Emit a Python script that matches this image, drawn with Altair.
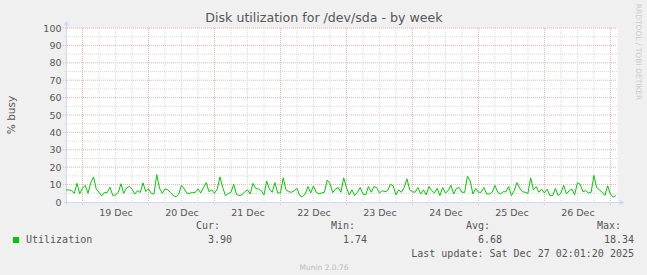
import altair as alt
import pandas as pd

# ---------------- data ----------------
chart_title = "Disk utilization for /dev/sda - by week"
y_title = "% busy"
start_time = "2025-12-18T18:00:00Z"   # left edge of the plot
span_hours = 200.4                     # visible time span
# hourly utilisation (%)
utilization = [
    6.9, 7.0, 6.5, 5.0, 10.7, 4.8, 8.0, 9.6, 5.0, 11.0, 14.4, 7.5, 5.5, 3.5, 5.5, 5.5,
    8.5, 3.8, 4.0, 5.5, 10.5, 5.0, 8.0, 9.0, 7.5, 4.5, 6.5, 5.5, 11.0, 6.0, 7.5, 5.0,
    4.5, 15.7, 8.0, 5.0, 7.5, 7.0, 5.5, 3.8, 3.0, 4.5, 9.6, 7.5, 5.0, 5.0, 5.5, 5.5,
    7.5, 5.2, 8.3, 11.1, 5.9, 7.0, 5.0, 7.4, 14.4, 8.3, 3.7, 4.8, 5.6, 10.2, 4.4, 3.7,
    4.1, 5.9, 7.0, 4.6, 10.7, 7.8, 7.4, 6.5, 4.1, 12.0, 7.4, 5.6, 11.1, 5.2, 5.2, 13.9,
    7.0, 5.9, 5.6, 6.5, 7.8, 3.7, 3.0, 4.6, 8.9, 5.2, 9.3, 5.6, 4.6, 5.2, 5.6, 12.6,
    10.7, 5.4, 7.4, 8.3, 5.6, 13.9, 8.3, 4.1, 7.0, 3.7, 5.6, 8.3, 4.6, 4.1, 8.9, 5.6,
    8.9, 8.3, 5.2, 6.5, 5.9, 6.5, 10.2, 9.3, 4.1, 7.0, 5.6, 8.3, 13.3, 7.0, 5.9, 5.6,
    8.3, 4.6, 7.0, 4.1, 8.9, 6.5, 5.2, 7.8, 3.7, 8.3, 5.2, 6.5, 9.6, 4.6, 7.8, 8.3,
    5.6, 5.6, 14.8, 12.0, 4.6, 7.8, 5.6, 5.6, 8.3, 4.6, 4.6, 5.6, 9.5, 5.6, 4.6, 5.9,
    5.9, 8.9, 3.7, 6.5, 11.1, 8.0, 5.9, 5.6, 5.0, 13.9, 7.0, 8.9, 5.6, 7.4, 5.2, 7.4,
    3.7, 3.7, 7.8, 3.7, 5.2, 9.6, 4.6, 6.5, 7.4, 4.1, 11.1, 10.2, 5.9, 6.5, 5.2, 5.6,
    15.2, 8.3, 7.0, 5.6, 3.7, 9.3, 4.6, 2.8, 3.7,
]
label_days = [19, 20, 21, 22, 23, 24, 25, 26]
y_tick_values = [0, 10, 20, 30, 40, 50, 60, 70, 80, 90, 100]
y_minor_values = [5, 15, 25, 35, 45, 55, 65, 75, 85, 95]
series_name = "Utilization"
legend_headers = ["Cur:", "Min:", "Avg:", "Max:"]
legend_values = ["3.90", "1.74", "6.68", "18.34"]
last_update = "Last update: Sat Dec 27 02:01:20 2025"
footer = "Munin 2.0.76"
watermark = "RRDTOOL / TOBI OETIKER"

# ---------------- frames ----------------
t0 = pd.Timestamp(start_time)
df = pd.DataFrame({
    "t": [(t0 + pd.Timedelta(hours=i)).strftime("%Y-%m-%dT%H:%M:%SZ") for i in range(len(utilization))],
    "v": utilization,
})
t_end = t0 + pd.Timedelta(hours=span_hours)
ms0 = int(t0.value // 10**6)
ms1 = int(t_end.value // 10**6)

grid_all = pd.date_range(pd.Timestamp("2025-12-19T00:00:00Z"), pd.Timestamp("2025-12-27T00:00:00Z"), freq="6h")
minor_x = pd.DataFrame({"t": [g.strftime("%Y-%m-%dT%H:%M:%SZ") for g in grid_all if g.hour != 0]})
major_x = pd.DataFrame({"t": [g.strftime("%Y-%m-%dT%H:%M:%SZ") for g in grid_all if g.hour == 0]})
minor_y = pd.DataFrame({"v": y_minor_values})
major_y = pd.DataFrame({"v": y_tick_values[1:]})
one = pd.DataFrame({"a": [0]})

W, H = 551, 174
PL, PT = 66, 28

xscale = alt.Scale(type="utc", domain=[ms0, ms1], nice=False)
yscale = alt.Scale(domain=[0, 100], nice=False)

FONT = "DejaVu Sans"
MONO = "DejaVu Sans Mono"
TXT = "#555555"
AXIS_C = "#CFD6F8"
GRID_C = "#DADADA"
MGRID_C = "#F2B0B0"

minor_h = alt.Chart(minor_y).mark_rule(color=GRID_C, strokeDash=[1, 1], strokeWidth=1).encode(
    y=alt.Y("v:Q", scale=yscale, axis=None), x=alt.value(-2), x2=alt.value(W))
major_h = alt.Chart(major_y).mark_rule(color=MGRID_C, strokeDash=[1, 1], strokeWidth=1).encode(
    y=alt.Y("v:Q", scale=yscale, axis=None), x=alt.value(-3), x2=alt.value(W))
minor_v = alt.Chart(minor_x).mark_rule(color=GRID_C, strokeDash=[1, 1], strokeWidth=1).encode(
    x=alt.X("t:T", scale=xscale, axis=None), y=alt.value(0), y2=alt.value(H + 2))
major_v = alt.Chart(major_x).mark_rule(color=MGRID_C, strokeDash=[1, 1], strokeWidth=1).encode(
    x=alt.X("t:T", scale=xscale, axis=None), y=alt.value(0), y2=alt.value(H + 3))

x_axis_line = alt.Chart(one).mark_rule(color=AXIS_C, strokeWidth=1).encode(
    x=alt.value(-2), x2=alt.value(W + 4), y=alt.value(H + 0.5))
y_axis_line = alt.Chart(one).mark_rule(color=AXIS_C, strokeWidth=1).encode(
    x=alt.value(0.5), y=alt.value(H + 2), y2=alt.value(-4))
arrow_up = alt.Chart(one).mark_point(shape="triangle-up", filled=True, color=AXIS_C, size=30, opacity=1).encode(
    x=alt.value(0.5), y=alt.value(-5))
arrow_right = alt.Chart(one).mark_point(shape="triangle-right", filled=True, color=AXIS_C, size=30, opacity=1).encode(
    x=alt.value(W + 5), y=alt.value(H + 0.5))

label_vals = [alt.DateTime(year=2025, month=12, date=d, hours=12, utc=True) for d in label_days]

line = alt.Chart(df).mark_line(color="#00CC00", strokeWidth=1, clip=True).encode(
    x=alt.X("t:T", scale=xscale, title=None,
            axis=alt.Axis(values=label_vals, format="%d %b",
                          grid=False, ticks=False, domain=False, labelFont=FONT, labelFontSize=9.5,
                          labelColor=TXT, labelPadding=5, labelFlush=False)),
    y=alt.Y("v:Q", scale=yscale, title=None,
            axis=alt.Axis(values=y_tick_values, grid=False, ticks=False, domain=False, labelFont=FONT,
                          labelFontSize=9.5, labelColor=TXT, labelPadding=5)),
)


def txt(text, x, y, size, align="left", font=MONO, color=TXT, angle=0):
    return alt.Chart(one).mark_text(text=text, align=align, baseline="middle", font=font,
                                    fontSize=size, color=color, angle=angle).encode(
        x=alt.value(x - PL), y=alt.value(y - PT))


texts = [
    txt(chart_title, 324, 18, 12.6, align="center", font=FONT),
    txt(y_title, 12, 115, 10.5, align="center", font=FONT, angle=270),
    txt(series_name, 26, 240, 10),
    txt(legend_headers[0], 220, 226, 10, align="right"),
    txt(legend_headers[1], 355, 226, 10, align="right"),
    txt(legend_headers[2], 490, 226, 10, align="right"),
    txt(legend_headers[3], 621, 226, 10, align="right"),
    txt(legend_values[0], 232, 240, 10, align="right"),
    txt(legend_values[1], 367, 240, 10, align="right"),
    txt(legend_values[2], 502, 240, 10, align="right"),
    txt(legend_values[3], 634, 240, 10, align="right"),
    txt(last_update, 634, 254, 10, align="right"),
    txt(footer, 324, 268, 7.5, align="center", font=FONT, color="#BBBBBB"),
    txt(watermark, 638, 52, 7.5, align="center", font=FONT, color="#CCCCCC", angle=90),
]
legend_box = alt.Chart(one).mark_rect(color="#00CC00").encode(
    x=alt.value(13 - PL), x2=alt.value(19 - PL), y=alt.value(237 - PT), y2=alt.value(243 - PT))

chart = alt.layer(
    minor_h, major_h, minor_v, major_v, x_axis_line, y_axis_line, arrow_up, arrow_right,
    line, legend_box, *texts
).resolve_axis(x="independent", y="independent").properties(
    width=W, height=H,
    autosize=alt.AutoSizeParams(type="none"),
    padding={"left": PL, "top": PT, "right": 647 - PL - W, "bottom": 275 - PT - H},
    background="#F0F0F0",
).configure_view(fill="white", stroke="transparent")

chart.save("out.html", embed_options={"renderer": "svg", "actions": False})
